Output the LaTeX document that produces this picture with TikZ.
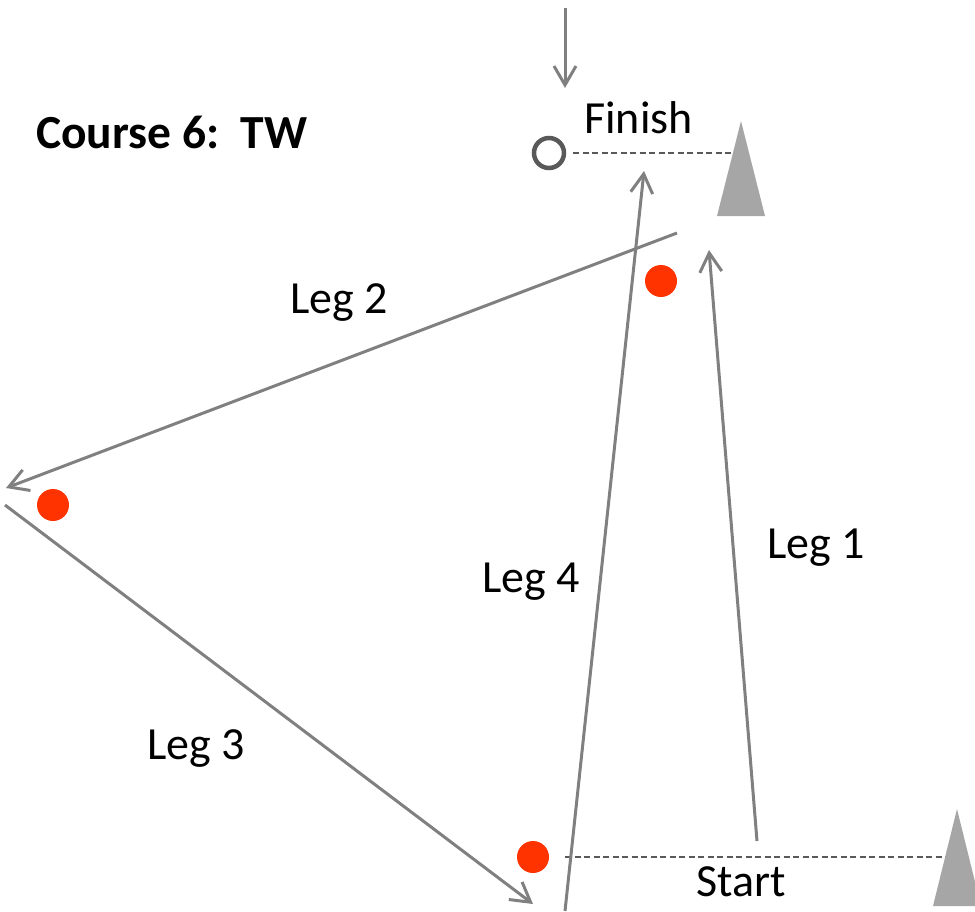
\documentclass[tikz,border=0pt]{standalone}
\usepackage{fontspec}
\setmainfont{Carlito}
\usetikzlibrary{arrows.meta}
\definecolor{legc}{HTML}{808080}
\definecolor{dashc}{HTML}{595959}
\definecolor{markc}{HTML}{A6A6A6}
\definecolor{buoyc}{HTML}{FF3300}
\begin{document}
\begin{tikzpicture}[x=1pt,y=-1pt,
  leg/.style={draw=legc,line width=3pt,-{Straight Barb[length=19pt,width=22pt,line width=3pt]}},
  startline/.style={draw=dashc,line width=2pt,dash pattern=on 6pt off 3.5pt},
  lbl/.style={font=\fontsize{46}{55}\selectfont,inner sep=0pt,anchor=base west},
  buoy/.style={circle,fill=buoyc,minimum size=32pt,inner sep=0pt},
  pin/.style={circle,draw=dashc,line width=4.5pt,minimum size=30pt,inner sep=0pt},
  cone/.style={fill=markc}]
\useasboundingbox (0,0) rectangle (975,911);

% title
\node[lbl,font=\fontsize{47.5}{56}\selectfont\bfseries] (title) at (36,148) {Course 6:\ \ TW};

% finish line
\coordinate (topA) at (565,8);
\coordinate (topB) at (565,88);
\draw[leg] (topA) -- (topB);
\node[pin] (finpin) at (549,153) {};
\coordinate (fdL) at (573,153);
\coordinate (fdR) at (733,153);
\draw[startline] (fdL) -- (fdR);
\fill[cone] (741,121) -- (765,216) -- (717,216) -- cycle;
\node[lbl] (finish) at (584,133) {Finish};

% start line
\node[buoy] (b3) at (533,857) {};
\coordinate (sdL) at (565,857);
\coordinate (sdR) at (946,857);
\draw[startline] (sdL) -- (sdR);
\fill[cone] (957,809) -- (981,906) -- (933,906) -- cycle;
\node[lbl] (start) at (696,896) {Start};

% marks
\node[buoy] (b1) at (661,281) {};
\node[buoy] (b2) at (53,505) {};

% legs
\coordinate (l1a) at (757,841);
\coordinate (l1b) at (709,250);
\coordinate (l2a) at (677,233);
\coordinate (l2b) at (6,488);
\coordinate (l3a) at (5,505);
\coordinate (l3b) at (533,904);
\coordinate (l4a) at (565,911);
\coordinate (l4b) at (644,171);
\draw[leg] (l1a) -- (l1b);
\draw[leg] (l2a) -- (l2b);
\draw[leg] (l3a) -- (l3b);
\draw[leg] (l4a) -- (l4b);

\node[lbl] (leg1) at (767,558) {Leg 1};
\node[lbl] (leg2) at (290,313) {Leg 2};
\node[lbl] (leg3) at (147,759) {Leg 3};
\node[lbl] (leg4) at (482,592) {Leg 4};
\end{tikzpicture}
\end{document}
